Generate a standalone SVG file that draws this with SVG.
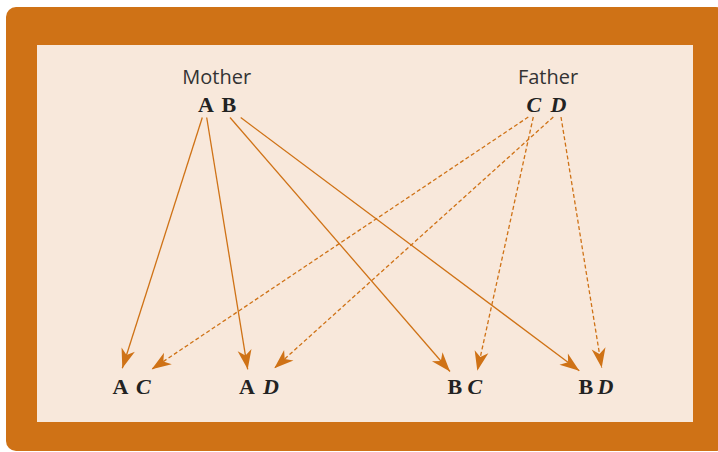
<svg xmlns="http://www.w3.org/2000/svg" width="718" height="452" viewBox="0 0 718 452">
  <style>
    .lbl { font-family: "Open Sans", "Liberation Sans", sans-serif; font-size: 20px; fill: #333333; }
    .al { font-family: "Liberation Serif", "DejaVu Serif", serif; font-size: 22px; font-weight: bold; fill: #222222; }
    .it { font-style: italic; }
    .ln { stroke: #cf7216; stroke-width: 1.3; fill: none; marker-end: url(#ah); }
    .dash { stroke-dasharray: 4 2.5; }
  </style>
  <defs>
    <marker id="ah" markerUnits="userSpaceOnUse" viewBox="-21 -8 22 16" markerWidth="22" markerHeight="16" refX="0" refY="0" orient="auto">
      <path d="M0,0 L-19.5,-7 L-14,0 L-19.5,7 Z" fill="#cf7216" stroke="none"/>
    </marker>
  </defs>
  <rect x="6" y="7" width="720" height="444" rx="10" fill="#cf7216"/>
  <rect x="37" y="45" width="656" height="377" fill="#f8e8db"/>

  <g id="connectors">
    <line class="ln" x1="202.3" y1="117.5" x2="122.3" y2="368.3"/>
    <line class="ln" x1="206.7" y1="117.5" x2="247.7" y2="369.3"/>
    <line class="ln" x1="230" y1="117.5" x2="450" y2="371.5"/>
    <line class="ln" x1="240.7" y1="117.5" x2="579.3" y2="370.7"/>
    <line class="ln dash" x1="528.3" y1="117" x2="151.7" y2="369.3"/>
    <line class="ln dash" x1="533.3" y1="117" x2="477.3" y2="370.7"/>
    <line class="ln dash" x1="553.3" y1="117" x2="274.3" y2="368.3"/>
    <line class="ln dash" x1="561" y1="117" x2="601.7" y2="367.7"/>
  </g>

  <g id="mother">
    <text class="lbl" x="216.7" y="84.3" text-anchor="middle">Mother</text>
    <text class="al" x="198" y="112.3">A</text>
    <text class="al" x="221.5" y="112.3">B</text>
  </g>
  <g id="father">
    <text class="lbl" x="548" y="84.3" text-anchor="middle">Father</text>
    <text class="al it" x="526.5" y="112">C</text>
    <text class="al it" x="550.5" y="112">D</text>
  </g>

  <g id="AC">
    <text class="al" x="112.5" y="394.3">A</text>
    <text class="al it" x="136" y="394.3">C</text>
  </g>
  <g id="AD">
    <text class="al" x="239" y="394.3">A</text>
    <text class="al it" x="263" y="394.3">D</text>
  </g>
  <g id="BC">
    <text class="al" x="447.5" y="394.3">B</text>
    <text class="al it" x="467.5" y="394.3">C</text>
  </g>
  <g id="BD">
    <text class="al" x="578.5" y="394.3">B</text>
    <text class="al it" x="597.5" y="394.3">D</text>
  </g>
</svg>
